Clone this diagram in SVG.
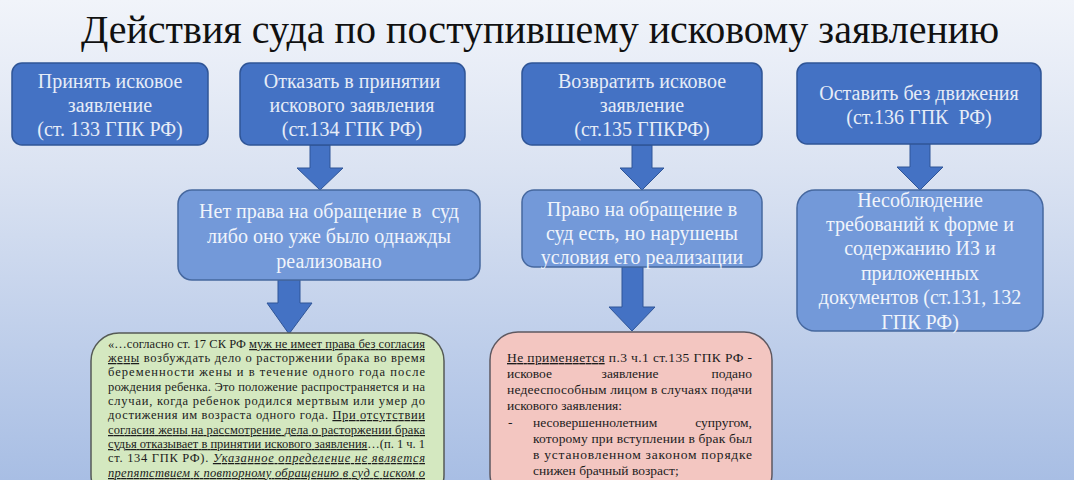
<svg xmlns="http://www.w3.org/2000/svg" width="1074" height="480" viewBox="0 0 1074 480">
  <defs>
    <linearGradient id="bg" x1="0" y1="0" x2="0" y2="1">
      <stop offset="0" stop-color="#f1f4fa"/>
      <stop offset="0.35" stop-color="#dbe3f2"/>
      <stop offset="1" stop-color="#a8bee4"/>
    </linearGradient>
    <style>
      text { font-family: "Liberation Serif", "Times New Roman", serif; }
      .title { font-size: 40px; fill: #111; }
      .top { fill: #4472c4; stroke: #2f5597; stroke-width: 1.5; }
      .mid { fill: #7399d9; stroke: #46689f; stroke-width: 1.5; }
      .tt { font-size: 20px; fill: #e6ecf7; text-anchor: middle; }
      .mt { font-size: 20px; fill: #f0f4fb; text-anchor: middle; }
      .arrow { fill: #4472c4; stroke: #2f5597; stroke-width: 1; }
      .green { fill: #d4e8c0; stroke: #555a55; stroke-width: 1.5; }
      .pink { fill: #f3c6c1; stroke: #5e5860; stroke-width: 1.5; }
      .gt { font-size: 12.5px; fill: #1c1c1c; }
      .pt { font-size: 13.5px; fill: #1c1c1c; }
      .u { text-decoration: underline; }
      .i { font-style: italic; }
    </style>
  </defs>

  <rect x="0" y="0" width="1074" height="480" fill="url(#bg)"/>

  <text class="title" x="540" y="43" text-anchor="middle">Действия суда по поступившему исковому заявлению</text>

  <g id="connectors">
    <path class="arrow" d="M310,145 H330 V168 H343 L320,190 L297,168 H310 Z"/>
    <path class="arrow" d="M278,280 H300 V303 H312 L289,334 L267,303 H278 Z"/>
    <path class="arrow" d="M632,145 H652 V168 H664 L642,190 L620,168 H632 Z"/>
    <path class="arrow" d="M622,267 H643 V307 H655 L632,331 L609,307 H622 Z"/>
    <path class="arrow" d="M910,143 H930 V167 H943 L920,190 L897,167 H910 Z"/>
  </g>

  <g id="accept">
    <rect class="top" x="12" y="63" width="196" height="82" rx="10"/>
    <text class="tt" x="110" y="88">Принять исковое</text>
    <text class="tt" x="110" y="112">заявление</text>
    <text class="tt" x="110" y="136">(ст. 133 ГПК РФ)</text>
  </g>

  <g id="refuse">
    <rect class="top" x="240" y="63" width="225" height="82" rx="10"/>
    <text class="tt" x="352" y="88">Отказать в принятии</text>
    <text class="tt" x="352" y="112">искового заявления</text>
    <text class="tt" x="352" y="136">(ст.134 ГПК РФ)</text>
  </g>

  <g id="return">
    <rect class="top" x="522" y="63" width="240" height="82" rx="10"/>
    <text class="tt" x="642" y="88">Возвратить исковое</text>
    <text class="tt" x="642" y="112">заявление</text>
    <text class="tt" x="642" y="136">(ст.135 ГПКРФ)</text>
  </g>

  <g id="leave">
    <rect class="top" x="797" y="63" width="244" height="81" rx="10"/>
    <text class="tt" x="919" y="100">Оставить без движения</text>
    <text class="tt" x="919" y="124" xml:space="preserve">(ст.136 ГПК  РФ)</text>
  </g>

  <g id="no-right">
    <rect class="mid" x="178" y="190" width="302" height="90" rx="14"/>
    <text class="mt" x="329" y="218" xml:space="preserve">Нет права на обращение в  суд</text>
    <text class="mt" x="329" y="243">либо оно уже было однажды</text>
    <text class="mt" x="329" y="268">реализовано</text>
  </g>

  <g id="right-violated">
    <rect class="mid" x="522" y="190" width="240" height="77" rx="12"/>
    <text class="mt" x="642" y="216">Право на обращение в</text>
    <text class="mt" x="642" y="240">суд есть, но нарушены</text>
    <text class="mt" x="642" y="264">условия его реализации</text>
  </g>

  <g id="non-compliance">
    <rect class="mid" x="797" y="190" width="246" height="141" rx="18"/>
    <text class="mt" x="920" y="207">Несоблюдение</text>
    <text class="mt" x="920" y="231">требований к форме и</text>
    <text class="mt" x="920" y="255">содержанию ИЗ и</text>
    <text class="mt" x="920" y="280">приложенных</text>
    <text class="mt" x="920" y="304">документов (ст.131, 132</text>
    <text class="mt" x="920" y="329">ГПК РФ)</text>
  </g>

  <g id="green-note">
    <rect class="green" x="91" y="333" width="353" height="170" rx="28"/>
    <text class="gt" x="108" y="348" textLength="317" lengthAdjust="spacing">«…согласно ст. 17 СК РФ <tspan class="u">муж не имеет права без согласия</tspan></text>
    <text class="gt" x="108" y="362" textLength="317" lengthAdjust="spacing"><tspan class="u">жены</tspan> возбуждать дело о расторжении брака во время</text>
    <text class="gt" x="108" y="376" textLength="317" lengthAdjust="spacing">беременности жены и в течение одного года после</text>
    <text class="gt" x="108" y="391" textLength="317" lengthAdjust="spacing">рождения ребенка. Это положение распространяется и на</text>
    <text class="gt" x="108" y="405" textLength="317" lengthAdjust="spacing">случаи, когда ребенок родился мертвым или умер до</text>
    <text class="gt" x="108" y="419" textLength="317" lengthAdjust="spacing">достижения им возраста одного года. <tspan class="u">При отсутствии</tspan></text>
    <text class="gt" x="108" y="434" textLength="317" lengthAdjust="spacing"><tspan class="u">согласия жены на рассмотрение дела о расторжении брака</tspan></text>
    <text class="gt" x="108" y="448" textLength="317" lengthAdjust="spacing"><tspan class="u">судья отказывает в принятии искового заявления</tspan>…(п. 1 ч. 1</text>
    <text class="gt" x="108" y="462" textLength="317" lengthAdjust="spacing">ст. 134 ГПК РФ). <tspan class="u i">Указанное определение не является</tspan></text>
    <text class="gt" x="108" y="477" textLength="317" lengthAdjust="spacing"><tspan class="u i">препятствием к повторному обращению в суд с иском о</tspan></text>
  </g>

  <g id="pink-note">
    <rect class="pink" x="490" y="332" width="282" height="170" rx="28"/>
    <text class="pt" x="507" y="362" textLength="245" lengthAdjust="spacing"><tspan class="u">Не применяется</tspan> п.3 ч.1 ст.135 ГПК РФ -</text>
    <text class="pt" x="507" y="378">исковое</text>
    <text class="pt" x="630" y="378" text-anchor="middle">заявление</text>
    <text class="pt" x="752" y="378" text-anchor="end">подано</text>
    <text class="pt" x="507" y="394" textLength="245" lengthAdjust="spacing">недееспособным лицом в случаях подачи</text>
    <text class="pt" x="507" y="410">искового заявления:</text>
    <text class="pt" x="508" y="427">-</text>
    <text class="pt" x="533" y="427">несовершеннолетним</text>
    <text class="pt" x="752" y="427" text-anchor="end">супругом,</text>
    <text class="pt" x="533" y="443" textLength="219" lengthAdjust="spacing">которому при вступлении в брак был</text>
    <text class="pt" x="533" y="459" textLength="219" lengthAdjust="spacing">в установленном законом порядке</text>
    <text class="pt" x="533" y="475">снижен брачный возраст;</text>
  </g>
</svg>
